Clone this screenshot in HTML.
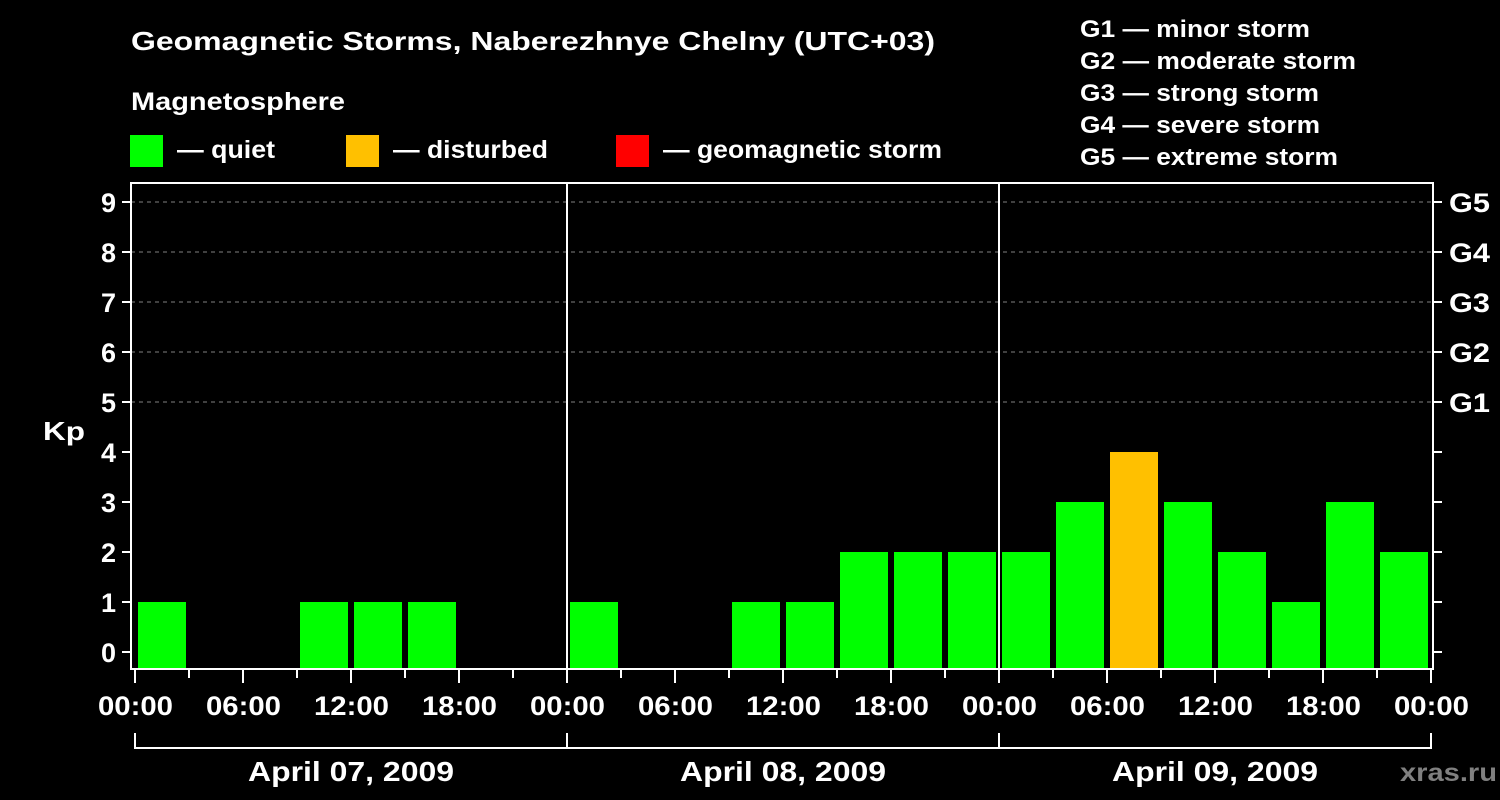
<!DOCTYPE html>
<html><head><meta charset="utf-8">
<style>
html,body{margin:0;padding:0;background:#000;}
svg{display:block;}
text{font-family:"Liberation Sans",Arial,sans-serif;font-weight:bold;fill:#fff;}
</style></head>
<body>
<svg id="chart" width="1500" height="800" viewBox="0 0 1500 800">
<rect x="0" y="0" width="1500" height="800" fill="#000"/>
<text x="131" y="50" font-size="26" textLength="804" lengthAdjust="spacingAndGlyphs">Geomagnetic Storms, Naberezhnye Chelny (UTC+03)</text>
<text x="131" y="110" font-size="25" textLength="214" lengthAdjust="spacingAndGlyphs">Magnetosphere</text>
<g>
<rect x="130" y="135" width="33" height="32" fill="#00ff00"/>
<text x="177" y="158" font-size="25" textLength="98" lengthAdjust="spacingAndGlyphs">— quiet</text></g>
<g>
<rect x="346" y="135" width="33" height="32" fill="#ffc000"/>
<text x="393" y="158" font-size="25" textLength="155" lengthAdjust="spacingAndGlyphs">— disturbed</text></g>
<g>
<rect x="616" y="135" width="33" height="32" fill="#ff0000"/>
<text x="663" y="158" font-size="25" textLength="279" lengthAdjust="spacingAndGlyphs">— geomagnetic storm</text></g>
<g>
<text x="1080" y="37" font-size="24" textLength="230" lengthAdjust="spacingAndGlyphs">G1 — minor storm</text>
<text x="1080" y="69" font-size="24" textLength="276" lengthAdjust="spacingAndGlyphs">G2 — moderate storm</text>
<text x="1080" y="101" font-size="24" textLength="239" lengthAdjust="spacingAndGlyphs">G3 — strong storm</text>
<text x="1080" y="133" font-size="24" textLength="240" lengthAdjust="spacingAndGlyphs">G4 — severe storm</text>
<text x="1080" y="165" font-size="24" textLength="258" lengthAdjust="spacingAndGlyphs">G5 — extreme storm</text>
</g>
<text x="43" y="440" font-size="26" textLength="42" lengthAdjust="spacingAndGlyphs">Kp</text>
<text x="1400" y="781" font-size="25" textLength="97" lengthAdjust="spacingAndGlyphs" style="fill:#808080">xras.ru</text>
<g id="grid"></g>
<g id="bars"></g>
<g id="axes"></g>
</svg>
<script>
const days = ["April 07, 2009","April 08, 2009","April 09, 2009"];
const kpValues = [1,0,0,1,1,1,0,0, 1,0,0,1,1,2,2,2, 2,3,4,3,2,1,3,2];
const yTicks = [0,1,2,3,4,5,6,7,8,9];
const gLabels = ["G1","G2","G3","G4","G5"];
const xTickLabels = ["00:00","06:00","12:00","18:00"];

const NS="http://www.w3.org/2000/svg";
const X0=135, DAYW=432, SLOT=DAYW/8;
const Y0=652, UNIT=50;
const L=131, R=1433, T=183, B=669;
function x(slot){return X0+slot*SLOT;}
function y(v){return Y0-v*UNIT;}
function mk(tag,attrs,parent){const e=document.createElementNS(NS,tag);for(const k in attrs)e.setAttribute(k,attrs[k]);parent.appendChild(e);return e;}
const grid=document.getElementById('grid'), bars=document.getElementById('bars'), axes=document.getElementById('axes');

for(let v=5;v<=9;v++){
  const l=mk('line',{x1:L,x2:R,y1:y(v),y2:y(v),stroke:'#808080','stroke-width':1,'stroke-dasharray':'4,4'},grid);
  
  
}
kpValues.forEach((v,i)=>{
  if(v<=0) return;
  const col = v>=5?'#ff0000':(v>=4?'#ffc000':'#00ff00');
  const top=y(v);
  const r=mk('rect',{x:x(i)+3,y:top,width:SLOT-6,height:B-1-top,fill:col},bars);
  
  
});
const fr=mk('rect',{x:L,y:T,width:R-L,height:B-T,fill:'none',stroke:'#fff','stroke-width':2},axes);


for(let d=1;d<days.length;d++){
  const l=mk('line',{x1:x(d*8),x2:x(d*8),y1:T,y2:B,stroke:'#fff','stroke-width':2},axes);
  
  
}
yTicks.forEach(v=>{
  const t=mk('line',{x1:L-9,x2:L,y1:y(v),y2:y(v),stroke:'#fff','stroke-width':2},axes);
  
  
  const t2=mk('line',{x1:R,x2:R+9,y1:y(v),y2:y(v),stroke:'#fff','stroke-width':2},axes);
  
  
  const tx=mk('text',{x:116,y:y(v)+10,'font-size':27,'text-anchor':'end'},axes);
  tx.textContent=v;
  
  
});
gLabels.forEach((g,i)=>{
  const tx=mk('text',{x:1449,y:y(5+i)+10,'font-size':27,textLength:41,lengthAdjust:'spacingAndGlyphs'},axes);
  tx.textContent=g;
  
  
});
const nSlots=days.length*8;
for(let s=0;s<=nSlots;s++){
  const major=s%2===0;
  const t=mk('line',{x1:x(s),x2:x(s),y1:B,y2:B+(major?14:9),stroke:'#fff','stroke-width':2},axes);
  
  
  if(major){
    const tx=mk('text',{x:x(s)-37,y:715,'font-size':27,textLength:75,lengthAdjust:'spacingAndGlyphs'},axes);
    tx.textContent=xTickLabels[(s/2)%4];
    
    
  }
}
const bl=mk('line',{x1:x(0),x2:x(nSlots),y1:748,y2:748,stroke:'#fff','stroke-width':2},axes);


for(let d=0;d<=days.length;d++){
  const t=mk('line',{x1:x(d*8),x2:x(d*8),y1:733,y2:749,stroke:'#fff','stroke-width':2},axes);
  
  
}
days.forEach((dl,d)=>{
  const tx=mk('text',{x:x(d*8+4)-103,y:781,'font-size':28,textLength:206,lengthAdjust:'spacingAndGlyphs'},axes);
  tx.textContent=dl;
  
  
});
</script>
</body></html>
